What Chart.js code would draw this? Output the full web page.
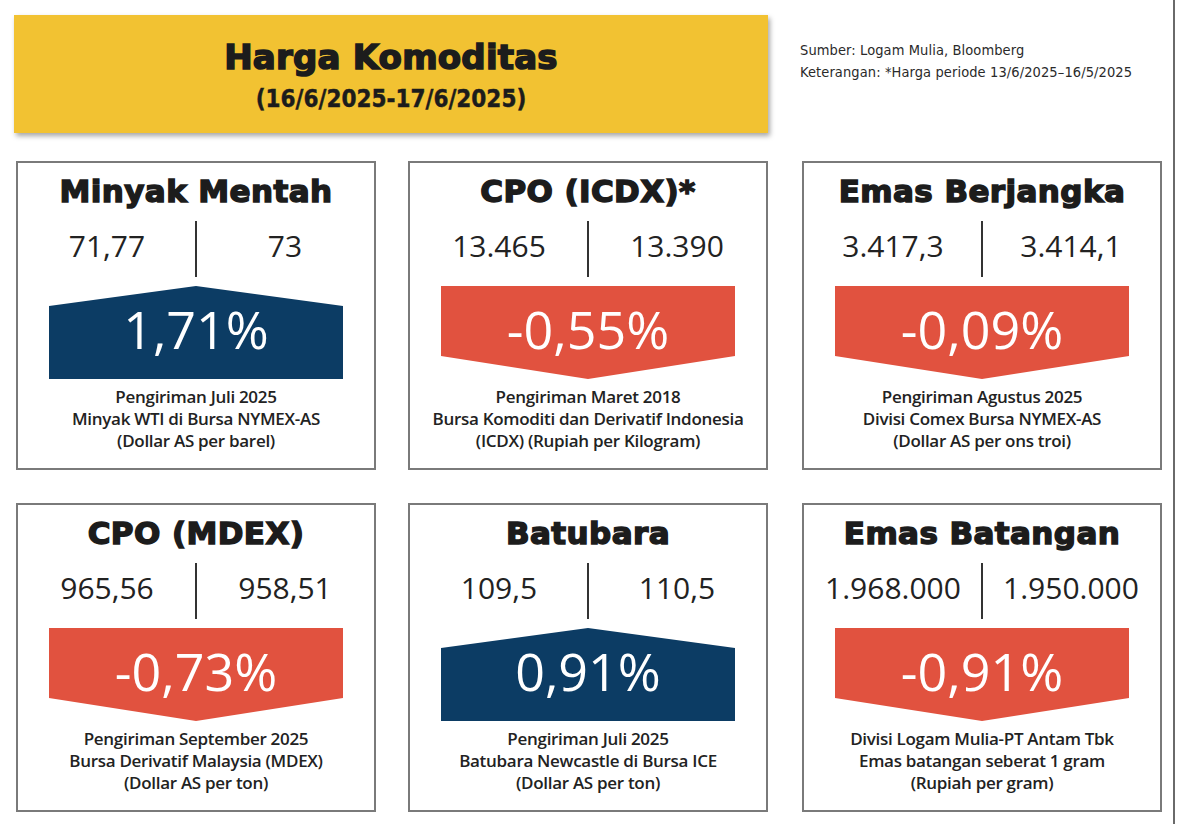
<!DOCTYPE html>
<html lang="id">
<head>
<meta charset="utf-8">
<title>Harga Komoditas</title>
<script src="https://cdn.jsdelivr.net/npm/chart.js@4.4.1/dist/chart.umd.min.js"></script>
<style>
  html, body { margin:0; padding:0; background:#fff; }
  body { width:1179px; height:824px; position:relative; overflow:hidden; font-family:"Open Sans", sans-serif; color:#1e1e1e; }
  .head { position:absolute; left:14px; top:15px; width:754px; height:118px; background:#f2c232;
          box-shadow:2px 3px 5px rgba(0,0,0,.35); text-align:center; }
  .head h1 { margin:0; position:absolute; left:0; right:0; top:22px; font:bold 34px "DejaVu Sans", sans-serif;
             -webkit-text-stroke:1.6px #1c1c1c; color:#1c1c1c; letter-spacing:.2px; }
  .head h2 { margin:0; position:absolute; left:0; right:0; top:70px; font:bold 24px "DejaVu Sans Condensed", "DejaVu Sans", sans-serif;
             -webkit-text-stroke:.4px #1c1c1c; color:#1c1c1c; }
  .src { position:absolute; left:800px; top:39px; font:14.5px/22px "Liberation Sans Narrow", "DejaVu Sans Condensed", sans-serif; color:#2a2a2a; letter-spacing:.1px; }
  .rule { position:absolute; left:1173px; top:0; width:2px; height:824px; background:#6a6a6a; }
  .panel { position:absolute; width:356px; height:305px; border:2px solid #7a7a7a; background:#fff; }
  .panel .ttl { position:absolute; left:0; right:0; top:10px; text-align:center; font:bold 31px "DejaVu Sans", sans-serif;
                -webkit-text-stroke:1.5px #1c1c1c; color:#1c1c1c; white-space:nowrap; letter-spacing:.4px; }
  .panel .num { position:absolute; top:62px; width:180px; text-align:center; font:400 30px "Open Sans", sans-serif; color:#222; white-space:nowrap; }
  .panel .div { position:absolute; left:177px; top:58px; width:2px; height:56px; background:#333; }
  .panel .arrow { position:absolute; left:31px; top:123px; width:294px; height:93px; }
  .panel .cap { position:absolute; left:-10px; right:-10px; top:223px; text-align:center; font:600 17px/22px "Open Sans", sans-serif;
                color:#222; letter-spacing:-.3px; white-space:nowrap; }
</style>
</head>
<body>

<div class="head">
  <h1>Harga Komoditas</h1>
  <h2>(16/6/2025-17/6/2025)</h2>
</div>
<div class="src">Sumber: Logam Mulia, Bloomberg<br>Keterangan: *Harga periode 13/6/2025–16/5/2025</div>
<div class="rule"></div>
<div id="panels"></div>

<script>
// ── Data ─────────────────────────────────────────────────────
const commodities = ['Minyak Mentah', 'CPO (ICDX)*', 'Emas Berjangka', 'CPO (MDEX)', 'Batubara', 'Emas Batangan'];
const priceBefore = [71.77, 13465, 3417.3, 965.56, 109.5, 1968000];
const priceAfter  = [73, 13390, 3414.1, 958.51, 110.5, 1950000];
const changePct   = [1.71, -0.55, -0.09, -0.73, 0.91, -0.91];
const captions = [
  ['Pengiriman Juli 2025', 'Minyak WTI di Bursa NYMEX-AS', '(Dollar AS per barel)'],
  ['Pengiriman Maret 2018', 'Bursa Komoditi dan Derivatif Indonesia', '(ICDX) (Rupiah per Kilogram)'],
  ['Pengiriman Agustus 2025', 'Divisi Comex Bursa NYMEX-AS', '(Dollar AS per ons troi)'],
  ['Pengiriman September 2025', 'Bursa Derivatif Malaysia (MDEX)', '(Dollar AS per ton)'],
  ['Pengiriman Juli 2025', 'Batubara Newcastle di Bursa ICE', '(Dollar AS per ton)'],
  ['Divisi Logam Mulia-PT Antam Tbk', 'Emas batangan seberat 1 gram', '(Rupiah per gram)']
];

// ── Layout ───────────────────────────────────────────────────
const colX = [16, 408, 802];
const rowY = [161, 503];
const UP_COL = '#0c3c64', DOWN_COL = '#e1523f';

// ── Helpers ──────────────────────────────────────────────────
function fmtId(v) {
  const [i, d] = String(v).split('.');
  const grp = i.replace(/\B(?=(\d{3})+(?!\d))/g, '.');
  return d ? grp + ',' + d : grp;
}
function fmtPct(v) { return v.toFixed(2).replace('.', ',') + '%'; }

// arrow-shaped bar: pointed top when up, pointed bottom when down
const arrowPlugin = {
  id: 'arrowBar',
  afterDatasetsDraw(chart) {
    const v = chart.data.datasets[0].change;
    const bar = chart.getDatasetMeta(0).data[0];
    const { x, y, base, width } = bar.getProps(['x', 'y', 'base', 'width'], true);
    const l = x - width / 2, r = x + width / 2, notch = v >= 0 ? 20 : 23;
    const ctx = chart.ctx;
    ctx.save();
    ctx.beginPath();
    if (v >= 0) {
      ctx.moveTo(l, y + notch); ctx.lineTo(x, y); ctx.lineTo(r, y + notch);
      ctx.lineTo(r, base); ctx.lineTo(l, base);
    } else {
      ctx.moveTo(l, y); ctx.lineTo(r, y); ctx.lineTo(r, base - notch);
      ctx.lineTo(x, base); ctx.lineTo(l, base - notch);
    }
    ctx.closePath();
    ctx.fillStyle = v >= 0 ? UP_COL : DOWN_COL;
    ctx.fill();
    ctx.fillStyle = '#fff';
    ctx.font = '400 52px "Open Sans", sans-serif';
    ctx.textAlign = 'center';
    ctx.textBaseline = 'alphabetic';
    ctx.fillText(fmtPct(v), x, y + 63);
    ctx.restore();
  }
};

// ── Build panels ─────────────────────────────────────────────
const wrap = document.getElementById('panels');
commodities.forEach((name, i) => {
  const p = document.createElement('div');
  p.className = 'panel';
  p.style.left = colX[i % 3] + 'px';
  p.style.top  = rowY[Math.floor(i / 3)] + 'px';
  p.innerHTML = `
    <div class="ttl">${name}</div>
    <div class="num" style="left:-1px">${fmtId(priceBefore[i])}</div>
    <div class="num" style="left:177px">${fmtId(priceAfter[i])}</div>
    <div class="div"></div>
    <div class="arrow"><canvas id="arr${i}"></canvas></div>
    <div class="cap">${captions[i].join('<br>')}</div>`;
  wrap.appendChild(p);

  const mag = Math.abs(changePct[i]);
  new Chart(document.getElementById('arr' + i), {
    type: 'bar',
    data: {
      labels: [name],
      datasets: [{ data: [mag], change: changePct[i], backgroundColor: 'rgba(0,0,0,0)',
                   categoryPercentage: 1, barPercentage: 1 }]
    },
    options: {
      responsive: true, maintainAspectRatio: false, animation: false,
      layout: { padding: 0 },
      scales: {
        x: { display: false },
        y: { display: false, min: 0, max: mag }
      },
      plugins: { legend: { display: false }, tooltip: { enabled: false } }
    },
    plugins: [arrowPlugin]
  });
});
</script>
</body>
</html>
